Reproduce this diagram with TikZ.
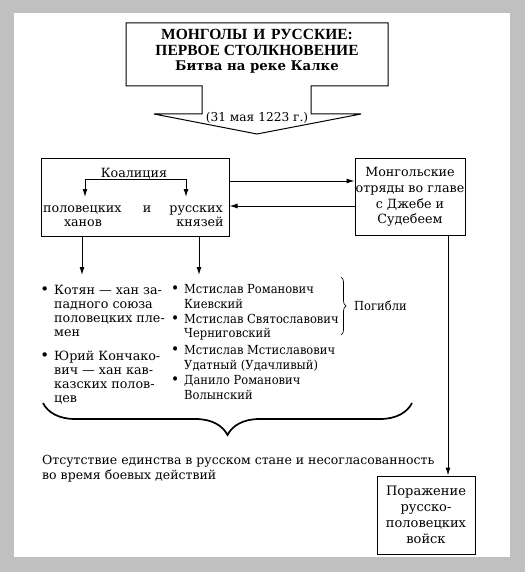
\documentclass[tikz,border=0pt]{standalone}
\usepackage{fontspec}
\setmainfont{DejaVu Serif}
\newfontfamily\headfont{Liberation Serif}
\newfontfamily\narrowfont{DejaVu Serif}[FakeStretch=0.92]
\usetikzlibrary{arrows.meta,decorations.pathreplacing}
\definecolor{bggray}{HTML}{C0C0C0}
\newcommand{\bul}{\llap{{\fontsize{15}{15}\selectfont\textbullet}\hspace{5pt}}}

\begin{document}
\begin{tikzpicture}[x=1pt,y=-1pt,
  every node/.style={inner sep=0pt, font=\fontsize{12.7}{14}\selectfont},
  frame/.style={draw, line width=1pt, align=center,
    font=\fontsize{12.7}{15.7}\selectfont},
  item/.style={align=left, anchor=base west},
  prince/.style={item, font=\narrowfont\fontsize{12.5}{14.2}\selectfont},
  arr/.style={-{Latex[length=8pt,width=5pt]}, line width=1pt},
  fork/.style={{Latex[length=8pt,width=5pt]}-{Latex[length=8pt,width=5pt]}, line width=1pt}
  ]
  % page
  \fill[bggray] (0,0) rectangle (525,572);
  \fill[white] (14,13) rectangle (510,557);

  % title callout
  \node[align=center, anchor=base, font=\bfseries\fontsize{15.5}{15.8}\selectfont] (title) at (257,71)
    {{\headfont МОНГОЛЫ\hspace{2pt} И\hspace{2pt} РУССКИЕ:}\\{\headfont ПЕРВОЕ СТОЛКНОВЕНИЕ}\\{\fontsize{13.3}{15.5}\selectfont Битва на реке Калке}};
  \node[anchor=base, font=\fontsize{12.2}{14}\selectfont] (date) at (257,121.7) {(31 мая 1223 г.)};
  \draw[line width=1pt] (126,23) -- (388,23) -- (388,86) -- (311,86) -- (311,114)
    -- (361,114) -- (257,134) -- (154,114) -- (202,114) -- (202,86) -- (126,86) -- cycle;

  % coalition
  \node[frame, minimum width=188, minimum height=77] (coal) at (135,197.5) {};
  \node[anchor=base] (koal) at (134,178) {Коалиция};
  \node[anchor=base west] (polov) at (43,212) {половецких};
  \node[anchor=base] (and) at (147,212) {и};
  \node[anchor=base east] (rus) at (223,212) {русских};
  \node[anchor=base] (khan) at (83,226.5) {ханов};
  \node[anchor=base] (knyaz) at (200,226.5) {князей};
  \coordinate (forkl) at (85,197);
  \coordinate (forkr) at (186,197);
  \draw[fork] (forkl) |- (koal.south) -| (forkr);

  % mongols
  \node[frame, minimum width=110, minimum height=76] (mong) at (410,197)
    {Монгольские\\отряды во главе\\с Джебе и\\Судебеем};
  \draw[arr] ([yshift=16.5pt]coal.east) -- ([yshift=16.5pt]coal.east -| mong.west);
  \draw[arr] ([yshift=-9pt]mong.west) -- ([yshift=-9pt]mong.west -| coal.east);

  % down to the lists
  \coordinate (lhead) at (82,275);
  \coordinate (rhead) at (199,275);
  \draw[arr] (coal.south -| lhead) -- (lhead);
  \draw[arr] (coal.south -| rhead) -- (rhead);

  % khans
  \node[item] (kotyan) at (54,336)
    {\bul Котян — хан за-\\падного союза\\половецких пле-\\мен};
  \node[item] (yuri) at (54,402.7)
    {\bul Юрий Кончако-\\вич — хан кав-\\казских полов-\\цев};

  % princes
  \node[prince] (kiev) at (184,308)
    {\bul Мстислав Романович\\Киевский};
  \node[prince] (chern) at (184,337.7)
    {\bul Мстислав Святославович\\Черниговский};
  \node[prince] (udat) at (184,369)
    {\bul Мстислав Мстиславович\\Удатный (Удачливый)};
  \node[prince] (volyn) at (184,399)
    {\bul Данило Романович\\Волынский};

  \draw[decorate, decoration={brace, amplitude=5pt}, line width=0.7pt] (341,277) -- (341,335);
  \node[anchor=base west, font=\narrowfont\fontsize{12.5}{14}\selectfont] (pogibli) at (354,310.7) {Погибли};

  % result
  \draw[decorate, decoration={brace, amplitude=32pt}, line width=1.7pt] (412,403) -- (43,403);
  \node[align=left, anchor=base west, font=\fontsize{12.5}{15}\selectfont] (disunity) at (42,479)
    {Отсутствие единства в русском стане и несогласованность\\во время боевых действий};

  \node[frame, minimum width=98, minimum height=78, font=\fontsize{13}{16}\selectfont] (defeat) at (426,515)
    {Поражение\\русско-\\половецких\\войск};
  \draw[arr] ([xshift=38pt]mong.south) -- ([xshift=38pt]mong.south |- defeat.north);
\end{tikzpicture}
\end{document}
